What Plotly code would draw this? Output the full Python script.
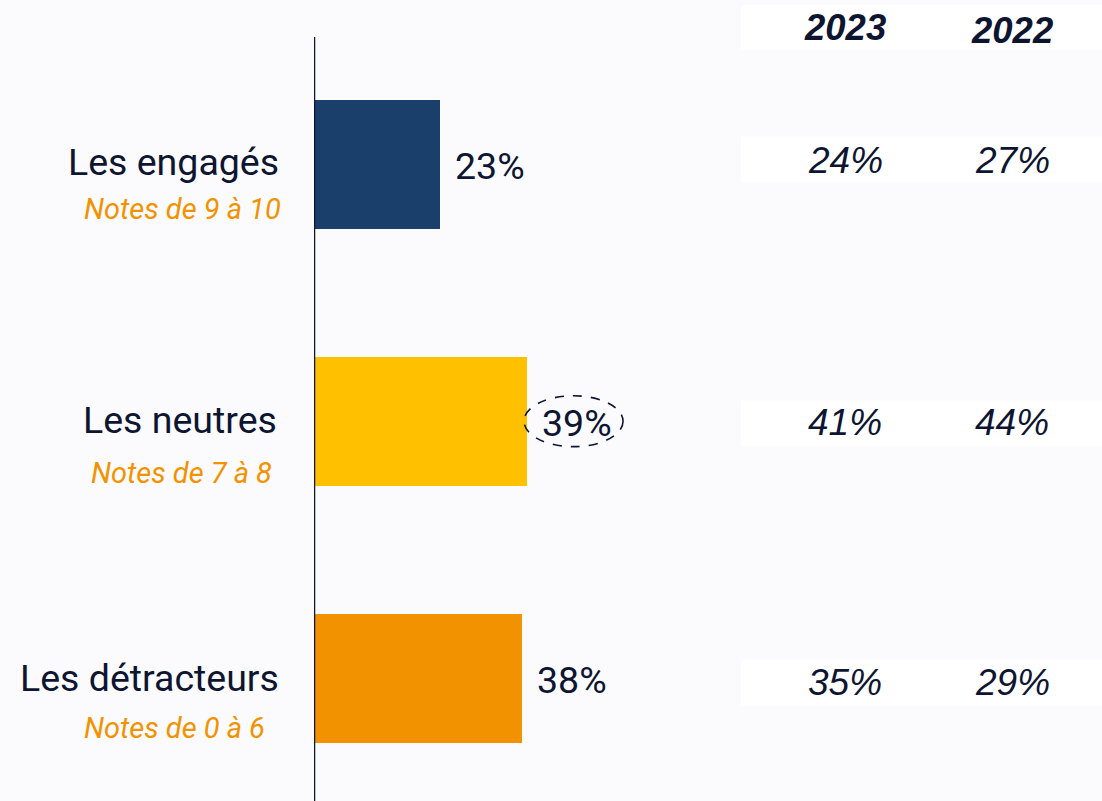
import plotly.graph_objects as go

# Net Promoter breakdown: current share per group plus prior years
groups = ["Les engagés", "Les neutres", "Les détracteurs"]
notes = ["Notes de 9 à 10", "Notes de 7 à 8", "Notes de 0 à 6"]
current = [23, 39, 38]
years = ["2023", "2022"]
share_2023 = [24, 41, 35]
share_2022 = [27, 44, 29]
bar_colors = ["#1A3F6B", "#FFC000", "#F39200"]
highlight = "Les neutres"

W, H = 1102, 801
BG = "#FBFBFE"
INK = "#0D1530"
ORANGE = "#F39200"

fig = go.Figure()
fig.add_trace(go.Bar(
    y=groups, x=current, orientation="h",
    marker=dict(color=bar_colors, line=dict(width=0)),
    width=0.502, hoverinfo="skip", showlegend=False,
))

annotations = []
shapes = []

# value labels to the right of each bar
for g, v in zip(groups, current):
    annotations.append(dict(
        x=v, y=g, xref="x", yref="y", text=f"{v}%", showarrow=False,
        xanchor="left", xshift=13, yshift=-2,
        font=dict(family="Roboto", size=37.5, color=INK),
    ))

# dashed ring around the highlighted value
hi = groups.index(highlight)
shapes.append(dict(
    type="circle", xref="x", yref="y",
    x0=current[hi] - 0.6, x1=current[hi] + 17.5,
    y0=hi - 0.1, y1=hi + 0.098,
    line=dict(color=INK, width=1.6, dash="dash"),
))

# group names and note ranges on the left
label_right = [281, 279, 281]
label_shift = [2, 1, 0]
note_center = [182, 181, 174]
note_shift = [-45, -52, -50]
for i, (g, n) in enumerate(zip(groups, notes)):
    annotations.append(dict(
        x=label_right[i] / W, y=g, xref="paper", yref="y", text=g,
        showarrow=False, xanchor="right", yshift=label_shift[i],
        font=dict(family="Roboto", size=37.5, color=INK),
    ))
    annotations.append(dict(
        x=note_center[i] / W, y=g, xref="paper", yref="y",
        text=f"<i>{n}</i>", showarrow=False, xanchor="center",
        yshift=note_shift[i],
        font=dict(family="Roboto", size=29, color=ORANGE),
    ))

# comparison columns on the right
col_x = [845, 1012]
box_left = 741 / W
shapes.append(dict(
    type="rect", xref="paper", yref="paper",
    x0=box_left, x1=1, y0=1 - 50 / H, y1=1 - 5 / H,
    fillcolor="white", line=dict(width=0), layer="below",
))
for j, yr in enumerate(years):
    annotations.append(dict(
        x=col_x[j] / W, y=1 - (28 + 3 * j) / H, xref="paper", yref="paper",
        text=f"<b><i>{yr}</i></b>", showarrow=False,
        xanchor="center", yanchor="middle",
        font=dict(family="Liberation Sans", size=36.5, color=INK),
    ))

row_shift = [5, -2, -4]
text_shift = [4, -1, -4]
for i, g in enumerate(groups):
    yc = i - row_shift[i] / 257
    shapes.append(dict(
        type="rect", xref="paper", yref="y",
        x0=box_left, x1=1, y0=yc - 0.0895, y1=yc + 0.0895,
        fillcolor="white", line=dict(width=0), layer="below",
    ))
    for j, vals in enumerate([share_2023, share_2022]):
        annotations.append(dict(
            x=col_x[j] / W, y=g, xref="paper", yref="y",
            text=f"<i>{vals[i]}%</i>", showarrow=False,
            xanchor="center", yshift=text_shift[i],
            font=dict(family="Liberation Sans", size=37, color=INK),
        ))

# vertical baseline of the bars
shapes.append(dict(
    type="line", xref="x", yref="paper",
    x0=0, x1=0, y0=0, y1=1 - 37 / H,
    line=dict(color=INK, width=2.5),
))

px_per_pct = 5.47
fig.update_layout(
    width=W, height=H,
    margin=dict(l=0, r=0, t=0, b=0),
    paper_bgcolor=BG, plot_bgcolor="rgba(0,0,0,0)",
    xaxis=dict(domain=[314 / W, 1], range=[0, (W - 314) / px_per_pct],
               visible=False, fixedrange=True),
    yaxis=dict(type="category", categoryorder="array", categoryarray=groups,
               range=[2.4767, -0.640], visible=False, fixedrange=True),
    annotations=annotations, shapes=shapes,
    bargap=0,
)

fig.write_html("out.html")
